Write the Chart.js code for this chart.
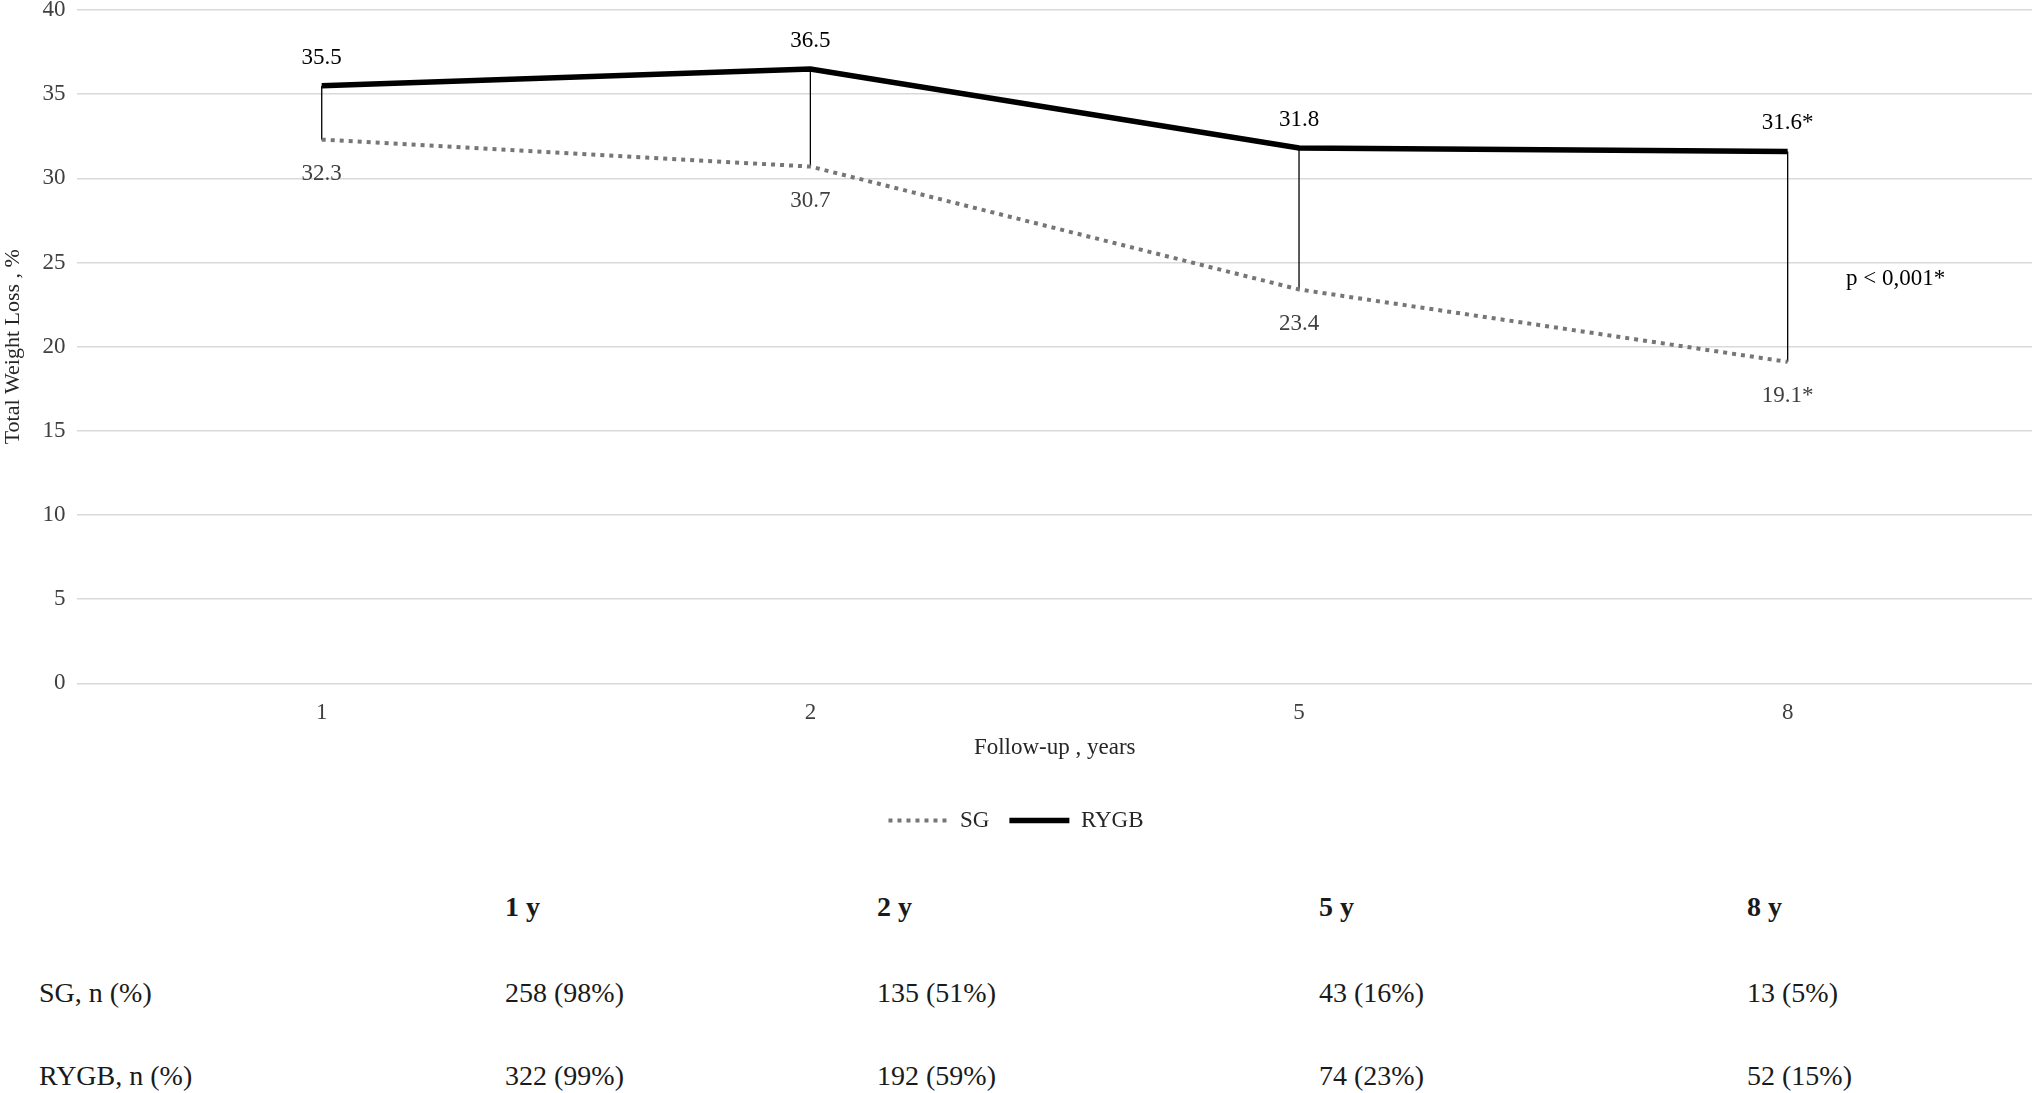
<!DOCTYPE html>
<html>
<head>
<meta charset="utf-8">
<script src="https://cdn.jsdelivr.net/npm/chart.js@4.4.1/dist/chart.umd.min.js"></script>
<style>
  body { margin: 0; background: #fff; font-family: "Liberation Serif", "Times New Roman", serif; }
  #wrap { position: relative; width: 2032px; height: 860px; }
  #table { position: absolute; left: 0; top: 860px; width: 2032px; height: 233px; font-size: 28px; color: #1a1a1a; }
  #table div { position: absolute; white-space: nowrap; transform: translateY(-50%); }
  #table .head { font-weight: bold; }
</style>
</head>
<body>
<div id="wrap"><canvas id="twlChart" width="2032" height="860"></canvas></div>
<div id="table"></div>
<script>
// Follow-up points and total weight loss (%) per procedure
const years = ["1", "2", "5", "8"];
const sgValues = [32.3, 30.7, 23.4, 19.1];
const rygbValues = [35.5, 36.5, 31.8, 31.6];
const significant = [false, false, false, true];
const yTicks = [0, 5, 10, 15, 20, 25, 30, 35, 40];

// Patients at follow-up
const tableHeads = ["1 y", "2 y", "5 y", "8 y"];
const sgN = [258, 135, 43, 13];
const sgPct = [98, 51, 16, 5];
const rygbN = [322, 192, 74, 52];
const rygbPct = [99, 59, 23, 15];

const serif = "'Liberation Serif', 'Times New Roman', serif";

// Thin vertical lines between the two series at each follow-up
const dropLines = {
  id: "dropLines",
  beforeDatasetsDraw(chart) {
    const { ctx, scales: { x, y } } = chart;
    ctx.save();
    ctx.strokeStyle = "#000";
    ctx.lineWidth = 1.3;
    years.forEach((_, i) => {
      const px = x.getPixelForValue(i);
      ctx.beginPath();
      ctx.moveTo(px, y.getPixelForValue(rygbValues[i]));
      ctx.lineTo(px, y.getPixelForValue(sgValues[i]));
      ctx.stroke();
    });
    ctx.restore();
  },
};

// Value labels: RYGB above, SG below, plus the p-value note
const valueLabels = {
  id: "valueLabels",
  afterDatasetsDraw(chart) {
    const { ctx, scales: { x, y } } = chart;
    ctx.save();
    ctx.font = "23px " + serif;
    ctx.textAlign = "center";
    ctx.textBaseline = "middle";
    years.forEach((_, i) => {
      const px = x.getPixelForValue(i);
      const star = significant[i] ? "*" : "";
      ctx.fillStyle = "#000";
      ctx.fillText(rygbValues[i].toFixed(1) + star, px, y.getPixelForValue(rygbValues[i]) - 28);
      ctx.fillStyle = "#404040";
      ctx.fillText(sgValues[i].toFixed(1) + star, px, y.getPixelForValue(sgValues[i]) + 34);
    });
    ctx.fillStyle = "#000";
    ctx.fillText("p < 0,001*", x.getPixelForValue(3) + 108, y.getPixelForValue(24));
    ctx.restore();
  },
};

new Chart(document.getElementById("twlChart"), {
  type: "line",
  data: {
    labels: years,
    datasets: [
      {
        label: "SG",
        data: sgValues,
        borderColor: "#767676",
        borderWidth: 4,
        borderDash: [4, 5],
        pointRadius: 0,
        tension: 0,
      },
      {
        label: "RYGB",
        data: rygbValues,
        borderColor: "#000",
        borderWidth: 5.5,
        pointRadius: 0,
        tension: 0,
      },
    ],
  },
  options: {
    responsive: false,
    animation: false,
    devicePixelRatio: 1,
    layout: { padding: { top: 10, right: 0, left: 0, bottom: 18 } },
    plugins: {
      tooltip: { enabled: false },
      legend: {
        position: "bottom",
        labels: {
          usePointStyle: true,
          pointStyle: "line",
          pointStyleWidth: 60,
          boxWidth: 60,
          boxHeight: 20,
          padding: 20,
          color: "#262626",
          font: { family: serif, size: 23 },
          generateLabels(chart) {
            return chart.data.datasets.map((ds, i) => ({
              text: ds.label,
              datasetIndex: i,
              strokeStyle: ds.borderColor,
              fillStyle: ds.borderColor,
              lineWidth: ds.borderWidth,
              lineDash: ds.borderDash || [],
              pointStyle: "line",
              fontColor: "#262626",
            }));
          },
        },
      },
    },
    scales: {
      x: {
        offset: true,
        grid: { display: false },
        border: { display: false },
        ticks: { color: "#404040", padding: 10, font: { family: serif, size: 23, lineHeight: 1 } },
        title: {
          display: true,
          text: "Follow-up , years",
          color: "#262626",
          font: { family: serif, size: 23 },
          padding: { top: 0, bottom: 27 },
        },
      },
      y: {
        min: 0,
        max: 40,
        afterBuildTicks: (scale) => { scale.ticks = yTicks.map((v) => ({ value: v })); },
        afterFit: (scale) => { scale.paddingTop = 0; scale.paddingBottom = 0; },
        grid: { color: "#d9d9d9", lineWidth: 1.5, drawTicks: false },
        border: { display: false },
        ticks: { color: "#404040", padding: 12, font: { family: serif, size: 23, lineHeight: 0.8 } },
        title: {
          display: true,
          text: "Total Weight Loss , %",
          color: "#262626",
          font: { family: serif, size: 22 },
          padding: { top: 0, bottom: 4 },
        },
      },
    },
  },
  plugins: [dropLines, valueLabels],
});

// Sample size table under the chart
const table = document.getElementById("table");
const colX = [505, 877, 1319, 1747];
function cell(text, left, top, cls) {
  const d = document.createElement("div");
  d.textContent = text;
  d.style.left = left + "px";
  d.style.top = top + "px";
  if (cls) d.className = cls;
  table.appendChild(d);
}
tableHeads.forEach((h, i) => cell(h, colX[i], 47, "head"));
cell("SG, n (%)", 39, 133);
cell("RYGB, n (%)", 39, 216);
sgN.forEach((n, i) => cell(n + " (" + sgPct[i] + "%)", colX[i], 133));
rygbN.forEach((n, i) => cell(n + " (" + rygbPct[i] + "%)", colX[i], 216));
</script>
</body>
</html>
